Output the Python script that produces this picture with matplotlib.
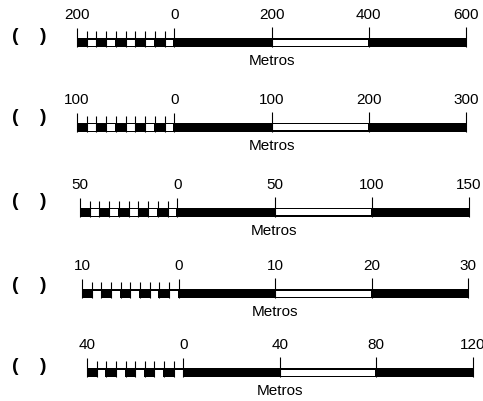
import matplotlib.pyplot as plt
from matplotlib.patches import Rectangle

plt.rcParams['font.family'] = ['Liberation Sans', 'DejaVu Sans']

# one step of each scale bar (metres); labels are step, 0, step, 2*step, 3*step
steps = [200, 100, 50, 10, 40]
unit_label = "Metros"
n_sub = 10

# layout of each row in pixels
row_left = [77, 77, 80, 82, 87]
row_right = [466, 466, 469, 468, 472.7]
row_top = [38, 122.7, 207.7, 289.3, 368.3]
paren_y = [36.7, 118, 201.7, 285, 366.7]

W, H = 483, 401
fig = plt.figure(figsize=(W / 100, H / 100), dpi=100)

bar_h = 9
for s, L, R, top, py in zip(steps, row_left, row_right, row_top, paren_y):
    ax = fig.add_axes([L / W, 1 - (top + bar_h) / H, (R - L) / W, 20 / H])
    ax.set_xlim(-s, 3 * s)
    ax.set_ylim(0, 20)
    ax.axis('off')
    px = 4 * s / (R - L)  # data units per pixel

    # black bar, then white pieces on top
    ax.add_patch(Rectangle((-s, 0), 4 * s, bar_h, facecolor='black', lw=0))
    sub = s / n_sub
    for k in range(n_sub):
        if k % 2 == 1:
            x0 = -s + k * sub
            ax.add_patch(Rectangle((x0 + 0.8 * px, 0.8), sub - 1.6 * px, bar_h - 2.5,
                                   facecolor='white', lw=0))
    ax.add_patch(Rectangle((s + px, 1.5), s - 2 * px, bar_h - 3, facecolor='white', lw=0))

    # ticks
    small = [-s + k * sub for k in range(1, n_sub)]
    ax.vlines(small, 0, bar_h + 7, color='black', lw=0.8, clip_on=False)
    ax.vlines([-s, 0], 0, bar_h + 10, color='black', lw=0.8, clip_on=False)
    ax.vlines([s, 2 * s, 3 * s], 0, bar_h + 11, color='black', lw=0.8, clip_on=False)

    # labels
    ticks = [-s, 0, s, 2 * s, 3 * s]
    for t in ticks:
        ax.text(t, bar_h + 23, str(abs(t)), ha='center', va='center',
                fontsize=11, clip_on=False)
    ax.text(s, -14, unit_label, ha='center', va='center', fontsize=11, clip_on=False)

    fig.text(15.7 / W, 1 - py / H, "(", ha='center', va='center',
             fontsize=14, fontweight='heavy')
    fig.text(43.2 / W, 1 - py / H, ")", ha='center', va='center',
             fontsize=14, fontweight='heavy')

fig.savefig('out.png', dpi=100)
